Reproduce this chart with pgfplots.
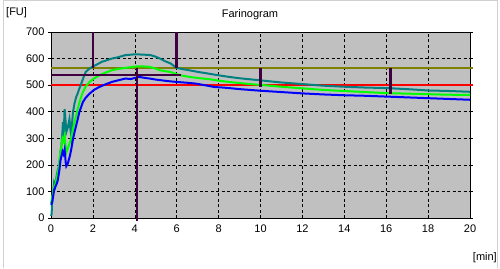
\documentclass[border=0pt]{standalone}
\usepackage{fontspec}
\setmainfont{Liberation Sans}
\usepackage{pgfplots}
\pgfplotsset{compat=1.18}
\definecolor{bgray}{RGB}{192,192,192}
\definecolor{teal2}{RGB}{0,128,128}
\definecolor{lgreen}{RGB}{0,255,0}
\definecolor{olive2}{RGB}{128,128,0}
\definecolor{dpurple}{RGB}{64,0,64}
\begin{document}
\begin{tikzpicture}[x=1pt,y=1pt]
\path[fill=white] (0,0) rectangle (500,268);
\draw[black!18, line width=1pt] (3,0) -- (3,267.5) -- (497.5,267.5) -- (497.5,0);
\begin{axis}[at={(51pt,50pt)}, anchor=south west, scale only axis,
  width=419pt, height=186pt, xmin=0, xmax=20, ymin=0, ymax=700,
  xtick={0,2,...,20}, ytick={0,100,...,700},
  axis background/.style={fill=bgray},
  grid=major, major grid style={black, dash pattern=on 3pt off 2.5pt, line width=0.6pt},
  axis line style={black, line width=0.8pt},
  tick align=outside, major tick length=3pt,
  ytick style={black, line width=0.6pt}, xtick style={draw=none},
  ticklabel style={font=\fontsize{11}{13}\selectfont},
  /pgf/number format/assume math mode=true,
  clip=false]
\addplot[olive2, line width=2.5pt] coordinates {(0,565) (20.15,565)};
\addplot[red, line width=2.5pt] coordinates {(0,500) (20.15,500)};
\addplot[teal2, line width=2pt] coordinates {
(0,8) (0.03,14) (0.05,58) (0.1,90) (0.15,132) (0.2,120) (0.25,150) (0.33,182) (0.4,200) (0.45,250) (0.5,271) (0.55,330) (0.57,361) (0.6,300) (0.65,410) (0.7,360) (0.73,323) (0.8,340) (0.88,372) (0.93,330) (0.97,309) (1.0,350) (1.05,399) (1.12,430) (1.2,455) (1.28,470) (1.35,487) (1.42,500) (1.5,518) (1.58,535) (1.66,550) (1.8,560) (1.97,569) (2.2,578) (2.43,588) (2.6,592) (2.9,600) (3.2,605) (3.55,613) (4.0,616) (4.4,615) (4.75,613) (5.0,607) (5.2,600) (5.45,590) (5.7,582) (6.0,565) (6.3,560) (6.6,556) (7.0,550) (7.55,543) (8.0,537) (8.5,531) (9.0,526) (9.5,522) (10,518) (11,510) (12,504) (13,498) (14,494) (15,491) (16,489) (17,485) (18,480) (19,478) (20,475)};
\addplot[lgreen, line width=2pt] coordinates {
(0,56) (0.05,75) (0.1,100) (0.16,119) (0.22,130) (0.28,155) (0.33,170) (0.4,210) (0.45,250) (0.5,271) (0.55,300) (0.6,290) (0.65,309) (0.7,265) (0.73,246) (0.8,262) (0.9,284) (0.97,300) (1.05,335) (1.12,360) (1.2,385) (1.28,412) (1.36,436) (1.45,458) (1.52,474) (1.65,494) (1.84,512) (2.05,525) (2.3,537) (2.6,547) (2.9,556) (3.2,561) (3.55,565) (4.0,570) (4.3,571) (4.7,569) (5.0,562) (5.2,556) (5.5,552) (5.7,550) (6.0,541) (6.2,537) (6.6,531) (7.0,527) (7.6,522) (8.0,517) (8.5,512) (9.0,508) (9.5,504) (10,501) (11,494) (12,488) (13,482) (14,478) (15,474) (16,470) (17,468) (18,466) (19,464) (20,463)};
\addplot[blue, line width=2pt] coordinates {
(0,50) (0.05,57) (0.1,80) (0.15,106) (0.22,120) (0.28,130) (0.33,144) (0.4,180) (0.45,215) (0.5,233) (0.55,250) (0.6,240) (0.65,258) (0.7,210) (0.73,195) (0.8,205) (0.9,233) (0.97,260) (1.05,297) (1.12,322) (1.2,347) (1.28,373) (1.35,398) (1.45,420) (1.52,436) (1.65,452) (1.84,468) (2.05,482) (2.3,493) (2.6,503) (2.9,512) (3.2,518) (3.55,525) (3.8,523) (4.2,531) (4.5,527) (4.7,525) (5.0,521) (5.3,518) (5.6,515) (6.0,512) (6.5,509) (6.9,506) (7.4,499) (7.8,493) (8.2,491) (8.5,489) (9.0,485) (9.5,482) (10,479) (11,474) (12,469) (13,465) (14,462) (15,460) (16,457) (17,454) (18,451) (19,448) (20,445)};
\addplot[dpurple, line width=2.5pt] coordinates {(0,538) (6.2,538)};
\addplot[dpurple, line width=2.5pt] coordinates {(2,700) (2,565)};
\addplot[dpurple, line width=2.5pt] coordinates {(6,700) (6,565)};
\addplot[dpurple, line width=2.5pt] coordinates {(4.1,565) (4.1,-10)};
\addplot[dpurple, line width=2.5pt] coordinates {(10,565) (10,493)};
\addplot[dpurple, line width=2.5pt] coordinates {(16.2,565) (16.2,468)};
\end{axis}
\node[font=\fontsize{11}{13}\selectfont] at (250,253) {Farinogram};
\node[font=\fontsize{11}{13}\selectfont, anchor=west, inner sep=0pt] at (6,255) {[FU]};
\node[font=\fontsize{11}{13}\selectfont, anchor=east, inner sep=0pt] at (497,10) {[min]};
\end{tikzpicture}
\end{document}
